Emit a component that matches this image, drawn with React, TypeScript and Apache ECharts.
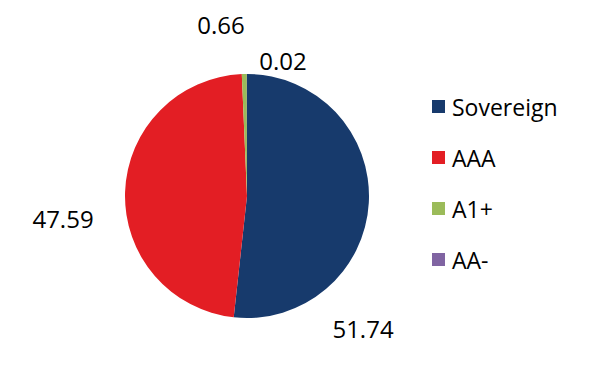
import React, { useEffect, useRef } from "react";
import * as echarts from "echarts";

const categories = ["Sovereign", "AAA", "A1+", "AA-"];
const values = [51.74, 47.59, 0.66, 0.02];
const colors = ["#173a6c", "#e31e24", "#9bbb59", "#8064a2"];
// label anchor points (layout only)
const labelPos: [number, number][] = [
  [363, 328],
  [63, 218],
  [221, 24],
  [283, 60],
];

export default function App() {
  const ref = useRef<HTMLDivElement>(null);
  useEffect(() => {
    if (!ref.current) return;
    const chart = echarts.init(ref.current, undefined, { renderer: "svg" });
    chart.setOption({
      animation: false,
      textStyle: { fontFamily: "Open Sans" },
      legend: {
        orient: "vertical",
        left: 432,
        top: 95,
        padding: 0,
        itemWidth: 13,
        itemHeight: 13,
        itemGap: 28,
        icon: "rect",
        textStyle: { fontSize: 23, lineHeight: 23, color: "#000", fontFamily: "Open Sans", padding: [0, 0, 0, 2] },
        data: categories,
      },
      series: [
        {
          type: "pie",
          center: [247, 196],
          radius: 122,
          startAngle: 90,
          clockwise: true,
          data: categories.map((c, i) => ({
            name: c,
            value: values[i],
            itemStyle: { color: colors[i] },
          })),
          label: {
            show: true,
            position: "outside",
            formatter: (p: any) => values[p.dataIndex].toFixed(2),
            fontSize: 24,
            color: "#000",
            fontFamily: "Open Sans",
          },
          labelLine: { show: false },
          labelLayout: (p: any) => ({
            x: labelPos[p.dataIndex][0],
            y: labelPos[p.dataIndex][1],
            align: "center",
            verticalAlign: "middle",
          }),
        },
      ],
    });
    return () => chart.dispose();
  }, []);
  return (
    <div
      ref={ref}
      style={{ position: "fixed", left: 0, top: 0, width: 589, height: 371, background: "#fff" }}
    />
  );
}
